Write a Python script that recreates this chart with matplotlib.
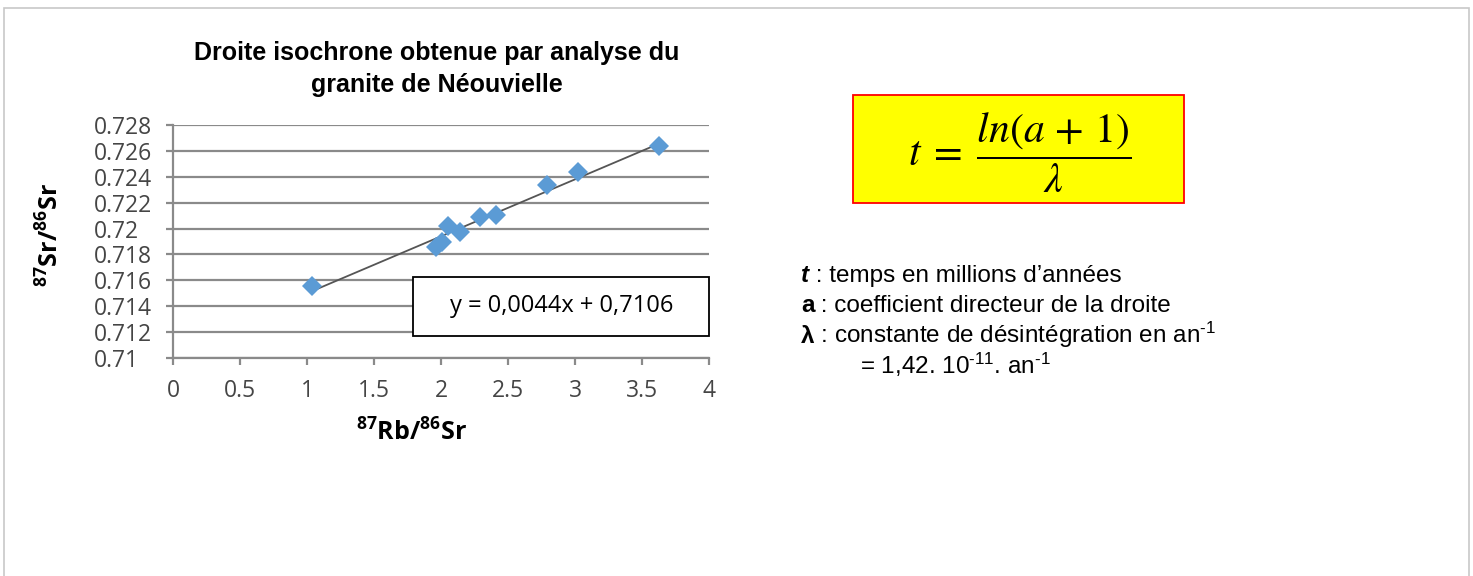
import matplotlib
matplotlib.use("Agg")
import matplotlib.pyplot as plt
from matplotlib.patches import Rectangle
import numpy as np

# données
rb_sr = [1.04, 1.96, 2.01, 2.05, 2.14, 2.29, 2.41, 2.79, 3.02, 3.63]
sr_sr = [0.7156, 0.7186, 0.71895, 0.72022, 0.71975, 0.72088, 0.72105, 0.72335, 0.72435, 0.7264]
pente = 0.0044
origine = 0.7106

x_ticks = [0, 0.5, 1, 1.5, 2, 2.5, 3, 3.5, 4]
x_labels = ['0', '0.5', '1', '1.5', '2', '2.5', '3', '3.5', '4']
y_ticks = [0.710, 0.712, 0.714, 0.716, 0.718, 0.720, 0.722, 0.724, 0.726, 0.728]
y_labels = ['0.71', '0.712', '0.714', '0.716', '0.718', '0.72', '0.722', '0.724', '0.726', '0.728']

titre = ["Droite isochrone obtenue par analyse du", "granite de Néouvielle"]
equation = "y = 0,0044x + 0,7106"

plt.rcParams['mathtext.fontset'] = 'custom'
plt.rcParams['mathtext.rm'] = 'Liberation Sans'
plt.rcParams['mathtext.bf'] = 'Open Sans:bold'
plt.rcParams['mathtext.it'] = 'Liberation Sans:italic'

W, H = 1473, 576
fig = plt.figure(figsize=(W / 100, H / 100), dpi=100)


def px(x, y):
    # pixels de l'image -> fraction de la figure
    return x / W, 1 - y / H


# cadre gris autour de l'image
fig.patches.append(Rectangle(px(4, 600), 1465 / W, 592 / H, transform=fig.transFigure,
                             fill=False, edgecolor='#c8c8c8', lw=1.2))

ax = fig.add_axes([173 / W, 1 - 358 / H, 536 / W, 233 / H])
grille = '#8a8a8a'
ax.set_xlim(0, 4)
ax.set_ylim(0.710, 0.728)
ax.set_yticks(y_ticks)
ax.set_yticklabels(y_labels)
ax.set_xticks(x_ticks)
ax.set_xticklabels(x_labels)
ax.grid(axis='y', color=grille, lw=1.6)
ax.set_axisbelow(True)
for s in ['top', 'right']:
    ax.spines[s].set_visible(False)
for s in ['left', 'bottom']:
    ax.spines[s].set_color(grille)
    ax.spines[s].set_linewidth(1.6)
ax.tick_params(axis='both', color=grille, width=1.6, length=5,
               labelcolor='#454545', labelsize=16.5)
ax.tick_params(axis='y', pad=52)
ax.tick_params(axis='x', pad=10)
for lab in ax.get_yticklabels():
    lab.set_horizontalalignment('left')
    lab.set_family('Open Sans')
for lab in ax.get_xticklabels():
    lab.set_family('Open Sans')

# droite de régression
xs = np.array([min(rb_sr), max(rb_sr)])
ax.plot(xs, pente * xs + origine, color='#555555', lw=1.3, zorder=3)
ax.plot(rb_sr, sr_sr, 'D', color='#5b9bd5', ms=10, mew=0, zorder=4)

# encadré de l'équation
fig.patches.append(Rectangle(px(413, 336), 296 / W, 59 / H, transform=fig.transFigure,
                             facecolor='white', edgecolor='black', lw=1.3, zorder=5))
fig.text(*px(562, 312), equation, ha='center', va='baseline', fontsize=17,
         family='Open Sans', zorder=6)

for i, ligne in enumerate(titre):
    fig.text(*px(437, 60 + 32 * i), ligne, ha='center', va='baseline', fontsize=18,
             fontweight='bold', family='Liberation Sans')
fig.text(*px(412, 432), r'$\mathbf{^{87}Rb/^{86}Sr}$', ha='center', va='center', fontsize=18)
fig.text(*px(50, 235), r'$\mathbf{^{87}Sr/^{86}Sr}$', ha='center', va='center',
         fontsize=18, rotation=90)

# formule encadrée
fig.patches.append(Rectangle(px(853, 203), 331 / W, 108 / H, transform=fig.transFigure,
                             facecolor='#ffff00', edgecolor='#ff0000', lw=1.3))
fig.text(*px(1020, 153), r'$t\;=\;\dfrac{ln(a\,+\,1)}{\lambda}$', ha='center', va='center',
         fontsize=30, math_fontfamily='stix')

# légende
lignes = [
    ('t', dict(fontweight='bold', style='italic'), " : temps en millions d\u2019années"),
    ('a', dict(fontweight='bold'), " : coefficient directeur de la droite"),
    ('\u03bb', dict(fontweight='bold'), r" : constante de désintégration en an$^{\text{-1}}$"),
]
renderer = fig.canvas.get_renderer()
for i, (tete, style, reste) in enumerate(lignes):
    yb = 282 + 30.5 * i
    t = fig.text(*px(801, yb), tete, ha='left', va='baseline', fontsize=17.5,
                 family='Liberation Sans', **style)
    x1 = t.get_window_extent(renderer).x1
    fig.text(x1 / W, 1 - yb / H, reste, ha='left', va='baseline', fontsize=17.5,
             family='Liberation Sans')
fig.text(*px(860, 282 + 30.5 * 3), r"= 1,42. 10$^{\text{-11}}$. an$^{\text{-1}}$", ha='left',
         va='baseline', fontsize=17.5, family='Liberation Sans')

fig.savefig('out.png', dpi=100)
